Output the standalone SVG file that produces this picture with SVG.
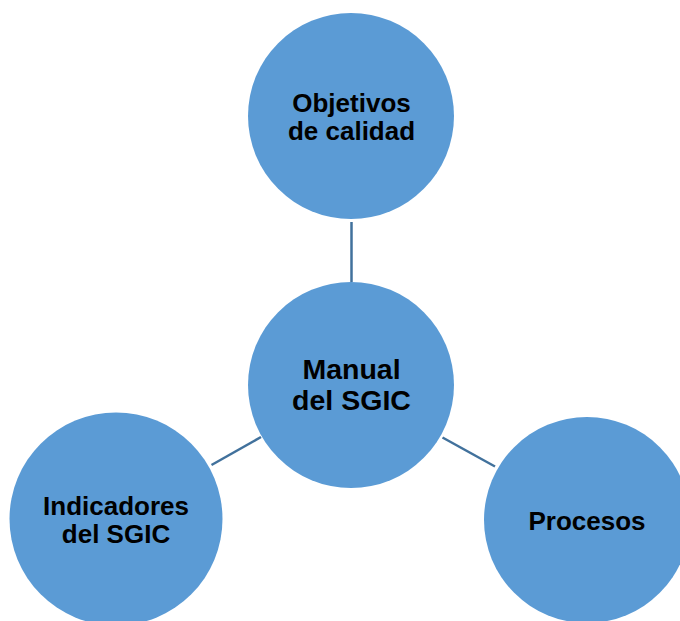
<svg xmlns="http://www.w3.org/2000/svg" width="680" height="621" viewBox="0 0 680 621">
  <style>
    .node { fill: #5B9BD5; }
    .label { font-family: "Liberation Sans", Arial, sans-serif; font-weight: bold; fill: #000; text-anchor: middle; }
    .outer { font-size: 26px; }
    .hub { font-size: 28.5px; }
    .link { stroke: #41719C; stroke-width: 2.5; fill: none; }
  </style>
  <rect width="680" height="621" fill="#fff"/>

  <!-- connectors from the hub to each outer circle -->
  <g id="connectors">
    <line class="link" x1="351.5" y1="222" x2="351.5" y2="282"/>
    <line class="link" x1="211.5" y1="465" x2="261" y2="437"/>
    <line class="link" x1="442.5" y1="437.5" x2="495" y2="466.5"/>
  </g>

  <g id="objetivos">
    <circle class="node" cx="351" cy="116" r="103"/>
    <text class="label outer" x="351.5" y="111.5">Objetivos</text>
    <text class="label outer" x="351.5" y="139.5">de calidad</text>
  </g>

  <g id="manual">
    <circle class="node" cx="351" cy="385" r="103"/>
    <text class="label hub" x="351.5" y="378.5">Manual</text>
    <text class="label hub" x="351.5" y="410">del SGIC</text>
  </g>

  <g id="indicadores">
    <circle class="node" cx="116" cy="519" r="106.5"/>
    <text class="label outer" x="116" y="514.5">Indicadores</text>
    <text class="label outer" x="116" y="542.5">del SGIC</text>
  </g>

  <g id="procesos">
    <circle class="node" cx="587" cy="520" r="103"/>
    <text class="label outer" x="587" y="529.5">Procesos</text>
  </g>
</svg>
